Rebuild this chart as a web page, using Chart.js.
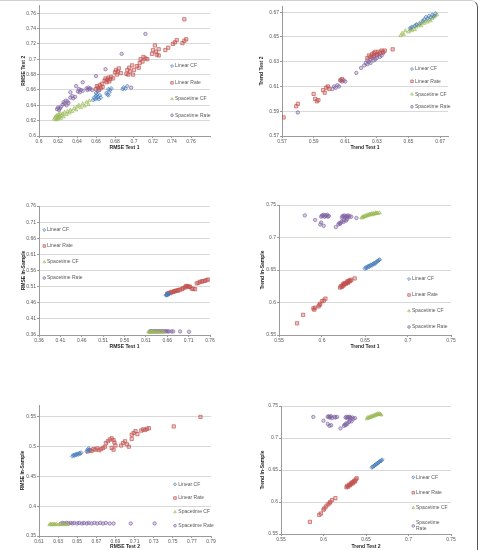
<!DOCTYPE html>
<html><head><meta charset="utf-8">
<script src="https://cdn.jsdelivr.net/npm/chart.js@4.4.1/dist/chart.umd.min.js"></script>
<style>
html,body{margin:0;padding:0;background:#fff;width:480px;height:550px;overflow:hidden;position:relative}
canvas{position:absolute}
#frame{position:absolute;left:-10px;top:0;width:488px;height:580px;border-top:1px solid #d0d0d0;border-right:1px solid #555;border-top-right-radius:7px;box-sizing:border-box;pointer-events:none}
</style></head>
<body>
<div id="frame"></div>
<canvas id="c1"></canvas><canvas id="c2"></canvas><canvas id="c3"></canvas>
<canvas id="c4"></canvas><canvas id="c5"></canvas><canvas id="c6"></canvas>
<script>
// ---------- categories ----------
const seriesNames = ["Linear CF", "Linear Rate", "Spacetime CF", "Spacetime Rate"];

// ---------- tick labels ----------
const ticksP1 = [0.6,0.62,0.64,0.66,0.68,0.7,0.72,0.74,0.76];
const ticksP2 = [0.57,0.59,0.61,0.63,0.65,0.67];
const ticksP3 = [0.36,0.41,0.46,0.51,0.56,0.61,0.66,0.71,0.76];
const ticksTrend = [0.55,0.6,0.65,0.7,0.75];
const ticksP5x = [0.61,0.63,0.65,0.67,0.69,0.71,0.73,0.75,0.77,0.79];
const ticksP5y = [0.35,0.4,0.45,0.5,0.55];

// ---------- Panel 1: RMSE Test 1 (x) vs RMSE Test 2 (y) ----------
const p1LinearCF = [[0.657,0.647],[0.658,0.650],[0.659,0.648],[0.660,0.652],[0.661,0.649],[0.661,0.654],[0.662,0.651],[0.663,0.648],[0.664,0.653],[0.665,0.650],[0.660,0.656],[0.662,0.658],[0.671,0.656],[0.672,0.654],[0.673,0.653],[0.674,0.657],[0.675,0.660],[0.673,0.661],[0.676,0.662],[0.688,0.661],[0.689,0.663],[0.691,0.662],[0.693,0.665]];
const p1LinearRate = [[0.660,0.661],[0.661,0.665],[0.662,0.663],[0.663,0.660],[0.664,0.666],[0.665,0.662],[0.666,0.668],[0.667,0.664],[0.669,0.672],[0.670,0.675],[0.671,0.670],[0.672,0.673],[0.673,0.676],[0.674,0.671],[0.675,0.674],[0.676,0.677],[0.678,0.675],[0.680,0.683],[0.681,0.686],[0.682,0.680],[0.683,0.684],[0.684,0.688],[0.686,0.682],[0.692,0.681],[0.693,0.686],[0.694,0.680],[0.695,0.689],[0.696,0.684],[0.698,0.692],[0.699,0.680],[0.700,0.686],[0.703,0.691],[0.705,0.689],[0.706,0.695],[0.707,0.700],[0.709,0.697],[0.710,0.703],[0.712,0.701],[0.714,0.700],[0.719,0.707],[0.720,0.712],[0.722,0.718],[0.723,0.710],[0.724,0.706],[0.726,0.705],[0.726,0.713],[0.733,0.712],[0.736,0.715],[0.741,0.720],[0.743,0.722],[0.745,0.725],[0.751,0.721],[0.753,0.724],[0.755,0.726],[0.753,0.752]];
const p1SpacetimeCF = [[0.616,0.622],[0.617,0.624],[0.618,0.621],[0.618,0.626],[0.619,0.623],[0.619,0.627],[0.620,0.625],[0.620,0.622],[0.621,0.628],[0.621,0.624],[0.622,0.626],[0.622,0.630],[0.623,0.623],[0.624,0.627],[0.625,0.629],[0.626,0.625],[0.627,0.631],[0.629,0.628],[0.630,0.632],[0.632,0.630],[0.633,0.634],[0.635,0.632],[0.637,0.636],[0.639,0.634],[0.640,0.638],[0.642,0.640],[0.644,0.637],[0.646,0.642],[0.648,0.639],[0.650,0.644],[0.652,0.641],[0.653,0.646]];
const p1SpacetimeRate = [[0.619,0.635],[0.620,0.637],[0.621,0.634],[0.622,0.636],[0.623,0.638],[0.625,0.641],[0.626,0.644],[0.627,0.642],[0.628,0.646],[0.629,0.640],[0.630,0.645],[0.631,0.643],[0.633,0.650],[0.635,0.652],[0.636,0.649],[0.638,0.651],[0.641,0.658],[0.642,0.661],[0.643,0.657],[0.644,0.660],[0.646,0.659],[0.650,0.662],[0.651,0.660],[0.652,0.663],[0.653,0.661],[0.654,0.662],[0.656,0.660],[0.633,0.657],[0.639,0.665],[0.646,0.670],[0.660,0.678],[0.670,0.687],[0.687,0.707],[0.712,0.733],[0.697,0.663]];

// ---------- Panel 2: Trend Test 1 (x) vs Trend Test 2 (y) ----------
const p2LinearCF = [[0.651,0.657],[0.652,0.658],[0.654,0.659],[0.655,0.660],[0.657,0.661],[0.659,0.663],[0.660,0.664],[0.661,0.666],[0.662,0.665],[0.663,0.667],[0.664,0.666],[0.665,0.668],[0.666,0.667],[0.667,0.669]];
const p2LinearRate = [[0.624,0.633],[0.625,0.635],[0.626,0.634],[0.627,0.636],[0.628,0.635],[0.628,0.637],[0.629,0.638],[0.630,0.636],[0.631,0.638],[0.632,0.637],[0.633,0.639],[0.634,0.638],[0.635,0.639],[0.640,0.640],[0.590,0.604],[0.591,0.600],[0.592,0.598],[0.593,0.599],[0.596,0.607],[0.597,0.605],[0.598,0.609],[0.599,0.610],[0.600,0.608],[0.607,0.615],[0.608,0.616],[0.580,0.596],[0.579,0.594],[0.571,0.585]];
const p2SpacetimeCF = [[0.645,0.651],[0.646,0.653],[0.647,0.652],[0.648,0.655],[0.650,0.654],[0.651,0.656],[0.652,0.655],[0.652,0.657],[0.653,0.658],[0.654,0.656],[0.655,0.658],[0.655,0.660],[0.656,0.659],[0.657,0.660],[0.658,0.661],[0.658,0.659],[0.659,0.662],[0.660,0.661],[0.661,0.663],[0.662,0.662],[0.663,0.664],[0.664,0.663],[0.665,0.665],[0.666,0.666],[0.667,0.667],[0.668,0.668]];
const p2SpacetimeRate = [[0.622,0.627],[0.623,0.629],[0.624,0.628],[0.624,0.631],[0.625,0.630],[0.626,0.632],[0.626,0.629],[0.627,0.633],[0.628,0.631],[0.628,0.634],[0.629,0.632],[0.630,0.635],[0.630,0.633],[0.631,0.636],[0.632,0.634],[0.633,0.635],[0.634,0.637],[0.602,0.608],[0.603,0.610],[0.604,0.609],[0.605,0.611],[0.606,0.610],[0.607,0.615],[0.608,0.614],[0.609,0.615],[0.610,0.614],[0.617,0.621],[0.620,0.625],[0.580,0.589]];

// ---------- Panel 3: RMSE Test 1 (x) vs RMSE In-Sample (y) ----------
const p3LinearCF = [[0.657,0.483],[0.658,0.485],[0.659,0.484],[0.660,0.486],[0.661,0.485],[0.662,0.487],[0.663,0.486],[0.665,0.488]];
const p3LinearRate = [[0.660,0.488],[0.662,0.489],[0.665,0.491],[0.668,0.490],[0.670,0.494],[0.673,0.493],[0.676,0.495],[0.678,0.496],[0.681,0.498],[0.684,0.497],[0.686,0.499],[0.690,0.501],[0.694,0.502],[0.697,0.505],[0.701,0.507],[0.703,0.510],[0.705,0.512],[0.708,0.511],[0.711,0.509],[0.713,0.510],[0.717,0.504],[0.721,0.503],[0.725,0.502],[0.729,0.520],[0.733,0.522],[0.737,0.525],[0.741,0.526],[0.744,0.527],[0.748,0.528],[0.752,0.530],[0.756,0.532]];
const p3SpacetimeCF = [[0.616,0.369],[0.618,0.370],[0.620,0.369],[0.622,0.370],[0.624,0.369],[0.626,0.370],[0.628,0.369],[0.631,0.370],[0.634,0.369],[0.637,0.370],[0.640,0.369],[0.644,0.370],[0.648,0.369],[0.652,0.370]];
const p3SpacetimeRate = [[0.619,0.371],[0.622,0.372],[0.625,0.371],[0.628,0.372],[0.631,0.371],[0.634,0.372],[0.637,0.371],[0.640,0.372],[0.643,0.371],[0.646,0.372],[0.649,0.371],[0.652,0.372],[0.655,0.371],[0.658,0.372],[0.661,0.371],[0.664,0.371],[0.670,0.371],[0.674,0.371],[0.690,0.371],[0.711,0.370]];

// ---------- Panel 4: Trend Test 1 (x) vs Trend In-Sample (y) ----------
const p4LinearCF = [[0.650,0.652],[0.651,0.654],[0.652,0.653],[0.653,0.655],[0.654,0.656],[0.655,0.655],[0.656,0.657],[0.657,0.658],[0.658,0.657],[0.659,0.659],[0.660,0.660],[0.661,0.659],[0.662,0.661],[0.663,0.662],[0.664,0.663],[0.665,0.664],[0.666,0.665],[0.667,0.666]];
const p4LinearRate = [[0.621,0.623],[0.622,0.625],[0.623,0.624],[0.624,0.627],[0.625,0.626],[0.625,0.629],[0.626,0.628],[0.627,0.630],[0.628,0.629],[0.629,0.631],[0.630,0.630],[0.630,0.633],[0.631,0.632],[0.632,0.634],[0.633,0.633],[0.634,0.635],[0.638,0.637],[0.604,0.606],[0.602,0.603],[0.600,0.602],[0.598,0.598],[0.597,0.596],[0.596,0.594],[0.592,0.592],[0.591,0.589],[0.590,0.591],[0.578,0.581],[0.571,0.568]];
const p4SpacetimeCF = [[0.646,0.730],[0.647,0.732],[0.648,0.731],[0.649,0.733],[0.650,0.732],[0.651,0.734],[0.652,0.733],[0.653,0.735],[0.654,0.734],[0.655,0.736],[0.656,0.735],[0.657,0.736],[0.658,0.737],[0.659,0.735],[0.660,0.737],[0.661,0.736],[0.662,0.738],[0.663,0.737],[0.664,0.738],[0.665,0.737],[0.667,0.738]];
const p4SpacetimeRate = [[0.599,0.732],[0.600,0.734],[0.601,0.733],[0.602,0.735],[0.603,0.732],[0.604,0.734],[0.605,0.733],[0.606,0.735],[0.607,0.732],[0.608,0.733],[0.623,0.731],[0.624,0.733],[0.625,0.732],[0.626,0.734],[0.627,0.731],[0.628,0.733],[0.629,0.732],[0.630,0.734],[0.631,0.731],[0.632,0.733],[0.634,0.732],[0.619,0.720],[0.620,0.722],[0.621,0.721],[0.622,0.723],[0.623,0.725],[0.625,0.724],[0.626,0.727],[0.628,0.726],[0.629,0.728],[0.580,0.734],[0.592,0.727],[0.599,0.723],[0.598,0.720],[0.602,0.718],[0.616,0.716],[0.640,0.730]];

// ---------- Panel 5: RMSE Test 2 (x) vs RMSE In-Sample (y) ----------
const p5LinearCF = [[0.645,0.484],[0.646,0.486],[0.647,0.485],[0.648,0.487],[0.649,0.486],[0.650,0.488],[0.651,0.487],[0.652,0.489],[0.653,0.488],[0.654,0.490],[0.660,0.492],[0.661,0.495],[0.662,0.497],[0.663,0.494]];
const p5LinearRate = [[0.661,0.492],[0.663,0.494],[0.665,0.493],[0.667,0.496],[0.669,0.495],[0.671,0.497],[0.673,0.494],[0.675,0.496],[0.677,0.498],[0.679,0.500],[0.680,0.506],[0.682,0.509],[0.684,0.512],[0.686,0.514],[0.688,0.511],[0.689,0.507],[0.690,0.502],[0.686,0.498],[0.688,0.495],[0.696,0.502],[0.698,0.506],[0.700,0.509],[0.702,0.504],[0.704,0.500],[0.707,0.513],[0.707,0.520],[0.709,0.523],[0.711,0.526],[0.713,0.521],[0.717,0.527],[0.719,0.529],[0.721,0.528],[0.723,0.530],[0.725,0.531],[0.751,0.534],[0.779,0.550]];
const p5SpacetimeCF = [[0.621,0.369],[0.622,0.370],[0.623,0.369],[0.624,0.370],[0.625,0.369],[0.626,0.370],[0.627,0.369],[0.628,0.370],[0.630,0.369],[0.632,0.370],[0.634,0.369],[0.636,0.370],[0.638,0.369],[0.640,0.370]];
const p5SpacetimeRate = [[0.633,0.371],[0.635,0.372],[0.637,0.371],[0.639,0.372],[0.641,0.371],[0.643,0.372],[0.645,0.371],[0.647,0.372],[0.650,0.371],[0.652,0.372],[0.655,0.371],[0.657,0.372],[0.660,0.371],[0.662,0.372],[0.665,0.371],[0.668,0.372],[0.671,0.371],[0.674,0.372],[0.677,0.371],[0.680,0.372],[0.684,0.371],[0.688,0.371],[0.706,0.371],[0.731,0.371]];

// ---------- Panel 6: Trend Test 2 (x) vs Trend In-Sample (y) ----------
const p6LinearCF = [[0.657,0.654],[0.658,0.655],[0.659,0.656],[0.660,0.657],[0.661,0.658],[0.662,0.659],[0.663,0.660],[0.664,0.661],[0.665,0.662],[0.666,0.663],[0.667,0.664],[0.668,0.665],[0.669,0.666]];
const p6LinearRate = [[0.627,0.623],[0.628,0.625],[0.629,0.624],[0.630,0.627],[0.631,0.626],[0.632,0.629],[0.633,0.628],[0.634,0.631],[0.635,0.630],[0.636,0.633],[0.637,0.632],[0.638,0.635],[0.639,0.637],[0.614,0.606],[0.610,0.603],[0.608,0.600],[0.607,0.598],[0.605,0.596],[0.603,0.593],[0.601,0.590],[0.600,0.588],[0.597,0.582],[0.595,0.580],[0.584,0.569]];
const p6SpacetimeCF = [[0.651,0.730],[0.652,0.732],[0.653,0.731],[0.654,0.733],[0.655,0.732],[0.656,0.734],[0.657,0.733],[0.658,0.735],[0.659,0.734],[0.660,0.736],[0.661,0.735],[0.662,0.737],[0.663,0.736],[0.664,0.738],[0.665,0.737],[0.666,0.738],[0.667,0.737],[0.668,0.736]];
const p6SpacetimeRate = [[0.605,0.733],[0.606,0.734],[0.607,0.732],[0.608,0.733],[0.609,0.734],[0.610,0.731],[0.613,0.733],[0.614,0.732],[0.616,0.733],[0.626,0.732],[0.627,0.733],[0.628,0.731],[0.629,0.733],[0.630,0.732],[0.631,0.733],[0.632,0.731],[0.634,0.732],[0.635,0.730],[0.637,0.731],[0.624,0.719],[0.625,0.721],[0.626,0.720],[0.627,0.723],[0.628,0.722],[0.630,0.725],[0.631,0.727],[0.633,0.726],[0.588,0.733],[0.600,0.727],[0.605,0.722],[0.607,0.719],[0.609,0.720],[0.620,0.715]];

// ---------- styles ----------
const FONT = '"Liberation Sans", Arial, Helvetica, sans-serif';
const STYLES = [
  {rgb:'74,126,187', shape:'rectRot', r:2.0},
  {rgb:'192,80,77', shape:'rect', r:2.3},
  {rgb:'155,187,89', shape:'triangle', r:2.0},
  {rgb:'128,100,162', shape:'circle', r:1.7}
];

const sideLegend = {
  id: 'sideLegend',
  afterDraw(chart, args, o) {
    const ctx = chart.ctx;
    ctx.save();
    seriesNames.forEach((name, i) => {
      const s = STYLES[i];
      const y = o.rows[i] - o.top;
      ctx.fillStyle = 'rgba(' + s.rgb + ',0.3)';
      ctx.strokeStyle = 'rgba(' + s.rgb + ',0.9)';
      ctx.lineWidth = 0.7;
      Chart.helpers.drawPoint(ctx, {pointStyle: s.shape, radius: s.r * 0.8, borderWidth: 0.7, rotation: 0}, o.markerX - o.left, y);
      ctx.fillStyle = '#595959';
      ctx.font = '5px ' + FONT;
      ctx.textBaseline = 'middle';
      ctx.textAlign = 'left';
      const lines = (o.wrapLast && i === 3) ? ['Spacetime', 'Rate'] : [name];
      const lh = 6.3;
      lines.forEach((ln, k) => {
        ctx.fillText(ln, o.textX - o.left, y - (lines.length - 1) * lh / 2 + k * lh);
      });
    });
    ctx.restore();
  }
};

function makePanel(p) {
  const cl = Math.floor(p.yTitleX - 8);
  const ct = Math.floor(p.area.t - 6);
  const cw = Math.ceil(p.area.r + 9 - cl);
  const ch = Math.ceil(p.xTitleY + 4 - ct);
  const cv = document.getElementById(p.id);
  cv.width = cw; cv.height = ch;
  cv.style.left = cl + 'px'; cv.style.top = ct + 'px';
  cv.style.width = cw + 'px'; cv.style.height = ch + 'px';
  const Wy = p.area.l - cl;
  const Hx = ct + ch - p.area.b;
  const padTop = p.area.t - ct;
  const padRight = cl + cw - p.area.r;

  const datasets = p.series.map((arr, i) => {
    const s = STYLES[i];
    return {
      label: seriesNames[i],
      data: arr.map(d => ({x: d[0], y: d[1]})),
      pointStyle: s.shape,
      pointRadius: s.r,
      pointBorderWidth: 0.75,
      pointBorderColor: 'rgba(' + s.rgb + ',0.9)',
      pointBackgroundColor: 'rgba(' + s.rgb + ',0.3)',
      showLine: false
    };
  });

  const tickFont = {family: FONT, size: 5};
  const titleFont = {family: FONT, size: 5, weight: 'bold'};

  new Chart(cv, {
    type: 'scatter',
    data: {datasets},
    options: {
      responsive: false, animation: false, devicePixelRatio: 1,
      layout: {padding: {left: 0, top: padTop, right: padRight, bottom: 0}},
      plugins: {
        legend: {display: false}, tooltip: {enabled: false},
        sideLegend: Object.assign({left: cl, top: ct, wrapLast: !!p.wrapLast}, p.legend)
      },
      scales: {
        x: {
          type: 'linear', position: 'bottom', min: p.xRange[0], max: p.xRange[1],
          afterBuildTicks: s => { s.ticks = p.xTicks.map(v => ({value: v})); },
          afterFit: s => { s.height = Hx; },
          ticks: {font: tickFont, color: '#595959', padding: 1, maxRotation: 0, autoSkip: false, callback: v => String(v)},
          grid: {drawOnChartArea: false, tickLength: 2, tickColor: '#9a9a9a'},
          border: {color: '#9a9a9a', width: 1},
          title: {display: true, text: p.xTitle, font: titleFont, color: '#262626', padding: {top: 0, bottom: ct + ch - p.xTitleY - 3}}
        },
        y: {
          type: 'linear', position: 'left', min: p.yRange[0], max: p.yRange[1],
          afterBuildTicks: s => { s.ticks = p.yTicks.map(v => ({value: v})); },
          afterFit: s => { s.width = Wy; },
          ticks: {font: tickFont, color: '#595959', padding: 1, autoSkip: false, callback: v => String(v)},
          grid: {color: '#d9d9d9', lineWidth: 1, tickLength: 2, tickColor: '#9a9a9a'},
          border: {color: '#9a9a9a', width: 1},
          title: {display: true, text: p.yTitle, font: titleFont, color: '#262626', padding: {top: p.yTitleX - cl - 3, bottom: 0}}
        }
      }
    },
    plugins: [sideLegend]
  });
}

makePanel({id:'c1', area:{l:39,t:5.5,r:210,b:136}, xRange:[0.6,0.78], yRange:[0.6,0.77], xTicks:ticksP1, yTicks:ticksP1,
  xTitle:'RMSE Test 1', yTitle:'RMSE Test 2', yTitleX:23.5, xTitleY:147.5,
  legend:{markerX:172, textX:175, rows:[66,82.8,99,115.3]},
  series:[p1LinearCF,p1LinearRate,p1SpacetimeCF,p1SpacetimeRate]});
makePanel({id:'c2', area:{l:282,t:6,r:448,b:136}, xRange:[0.57,0.675], yRange:[0.57,0.675], xTicks:ticksP2, yTicks:ticksP2,
  xTitle:'Trend Test 1', yTitle:'Trend Test 2', yTitleX:261.7, xTitleY:147.5,
  legend:{markerX:412, textX:415, rows:[69,81.3,94.3,106.7]},
  series:[p2LinearCF,p2LinearRate,p2SpacetimeCF,p2SpacetimeRate]});
makePanel({id:'c3', area:{l:39,t:206,r:210,b:335}, xRange:[0.36,0.76], yRange:[0.36,0.76], xTicks:ticksP3, yTicks:ticksP3,
  xTitle:'RMSE Test 1', yTitle:'RMSE In-Sample', yTitleX:23.3, xTitleY:347,
  legend:{markerX:44.3, textX:47, rows:[230,246,262,278]},
  series:[p3LinearCF,p3LinearRate,p3SpacetimeCF,p3SpacetimeRate]});
makePanel({id:'c4', area:{l:279,t:205,r:451,b:335}, xRange:[0.55,0.75], yRange:[0.55,0.75], xTicks:ticksTrend, yTicks:ticksTrend,
  xTitle:'Trend Test 1', yTitle:'Trend In-Sample', yTitleX:262.3, xTitleY:347,
  legend:{markerX:409, textX:412, rows:[279,295,311,327]},
  series:[p4LinearCF,p4LinearRate,p4SpacetimeCF,p4SpacetimeRate]});
makePanel({id:'c5', area:{l:39,t:405,r:211,b:536}, xRange:[0.61,0.79], yRange:[0.35,0.57], xTicks:ticksP5x, yTicks:ticksP5y,
  xTitle:'RMSE Test 2', yTitle:'RMSE In-Sample', yTitleX:22.7, xTitleY:546.7,
  legend:{markerX:175, textX:178.3, rows:[484.3,498,512,525.7]},
  series:[p5LinearCF,p5LinearRate,p5SpacetimeCF,p5SpacetimeRate]});
makePanel({id:'c6', area:{l:281,t:406,r:451,b:534}, xRange:[0.55,0.75], yRange:[0.55,0.75], xTicks:ticksTrend, yTicks:ticksTrend,
  xTitle:'Trend Test 2', yTitle:'Trend In-Sample', yTitleX:262.7, xTitleY:546.7, wrapLast:true,
  legend:{markerX:413.3, textX:416, rows:[477.3,492.7,507.7,525.9]},
  series:[p6LinearCF,p6LinearRate,p6SpacetimeCF,p6SpacetimeRate]});
</script>
</body></html>
